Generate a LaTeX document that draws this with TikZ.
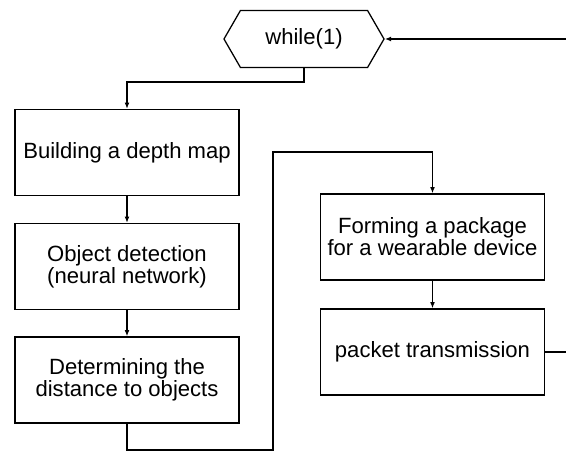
\documentclass[tikz,border=0pt]{standalone}
\usepackage{fontspec}
\setmainfont{Liberation Sans}
\usetikzlibrary{arrows.meta,shapes.symbols}

\begin{document}
\begin{tikzpicture}[x = 0.025cm, y = -0.025cm,
        block/.style = {draw, line width = 0.9pt, minimum width = 5.6cm, minimum height = 2.15cm,
            align = center, inner sep = 0pt, font = \fontsize{15.7}{14.6}\selectfont},
        loophead/.style = {draw, line width = 0.9pt, shape = signal, signal to = west and east,
            signal pointer angle = 120, minimum width = 4cm, minimum height = 1.42cm,
            inner sep = 0pt, font = \fontsize{15.7}{14.6}\selectfont},
        flow/.style = {line width = 0.9pt, -{Latex[length = 4.5pt, width = 3.5pt]}}]
            \useasboundingbox (0,0) rectangle (566,451);
            \clip (0,0) rectangle (566,451);
            \node[loophead] (loop) at (304,39) {while(1)};
            \node[block] (depth) at (127,152.5) {Building a depth map};
            \node[block] (detect) at (127,266.5) {Object detection\\(neural network)};
            \node[block] (dist) at (127,380) {Determining the\\distance to objects};
            \node[block] (pack) at (432.5,237) {Forming a package\\for a wearable device};
            \node[block] (send) at (432.5,352) {packet transmission};
            \coordinate (turn1) at (304,82);
            \coordinate (low) at (127,450);
            \coordinate (up) at (273,152);
            \coordinate (back) at (600,352);
            \draw[flow] (loop.south) -- (turn1) -| (depth.north);
            \draw[flow] (depth) -- (detect);
            \draw[flow] (detect) -- (dist);
            \draw[flow] (dist.south) -- (low) -| (up) -| (pack.north);
            \draw[flow] (pack) -- (send);
            \draw[flow] (send.east) -- (back) |- (loop.east);
        \end{tikzpicture}
\end{document}
